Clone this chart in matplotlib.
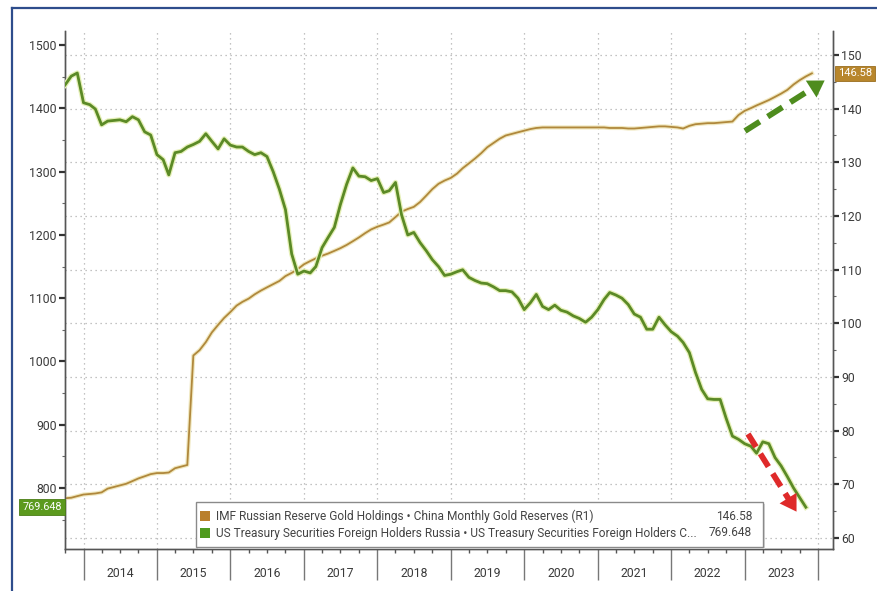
import matplotlib
matplotlib.use("Agg")
import matplotlib.pyplot as plt
import matplotlib.dates as mdates
import matplotlib.patheffects as pe
import pandas as pd
from matplotlib.patches import Rectangle, FancyArrowPatch
from matplotlib.lines import Line2D
from matplotlib.ticker import MultipleLocator, NullFormatter, FuncFormatter

FONT = ["Roboto", "DejaVu Sans"]
plt.rcParams["font.family"] = FONT

# ---- data (monthly, first observation Oct 2013) ----
ust_name = "US Treasury Securities Foreign Holders Russia \u2022 US Treasury Securities Foreign Holders C..."
gold_name = "IMF Russian Reserve Gold Holdings \u2022 China Monthly Gold Reserves (R1)"

ust_holdings = [
    1437, 1451, 1456, 1409, 1406, 1399, 1374, 1380, 1381, 1382,
    1379, 1387, 1382, 1363, 1358, 1327, 1319, 1295, 1330, 1332,
    1339, 1343, 1348, 1360, 1348, 1336, 1352, 1342, 1339, 1339,
    1332, 1327, 1330, 1324, 1300, 1272, 1240, 1170, 1138, 1143,
    1140, 1150, 1180, 1196, 1212, 1248, 1280, 1306, 1293, 1292,
    1286, 1289, 1267, 1270, 1283, 1232, 1200, 1204, 1188, 1175,
    1161, 1150, 1136, 1138, 1142, 1145, 1133, 1128, 1124, 1123,
    1118, 1112, 1112, 1110, 1100, 1082, 1093, 1106, 1087, 1082,
    1089, 1081, 1078, 1072, 1068, 1062, 1070, 1082, 1098, 1109,
    1105, 1100, 1090, 1075, 1070, 1051, 1051, 1070, 1058, 1047,
    1040, 1030, 1014, 983, 956, 941, 940, 940, 910, 882,
    877, 870, 866, 855, 873, 870, 848, 835, 818, 800,
    785, 769.648,
]

gold_reserves = [
    67.4, 67.5, 67.8, 68.1, 68.2, 68.3, 68.5, 69.2, 69.5, 69.8,
    70.1, 70.6, 71.1, 71.5, 71.9, 72.1, 72.1, 72.2, 73.0, 73.3,
    73.6, 94.0, 95.0, 96.5, 98.3, 99.7, 101.0, 102.1, 103.3, 104.0,
    104.6, 105.4, 106.1, 106.7, 107.3, 107.9, 108.8, 109.4, 110.1, 111.0,
    111.6, 112.1, 112.6, 113.0, 113.5, 114.0, 114.6, 115.3, 116.0, 116.8,
    117.5, 118.0, 118.4, 118.8, 119.8, 120.8, 121.3, 121.7, 122.6, 123.8,
    125.0, 126.0, 126.6, 127.1, 127.9, 128.9, 129.8, 130.7, 131.7, 132.8,
    133.6, 134.4, 135.0, 135.3, 135.6, 135.9, 136.2, 136.4, 136.5, 136.5,
    136.5, 136.5, 136.5, 136.5, 136.5, 136.5, 136.5, 136.5, 136.5, 136.4,
    136.4, 136.4, 136.3, 136.3, 136.4, 136.5, 136.6, 136.7, 136.7, 136.6,
    136.5, 136.3, 136.8, 137.1, 137.2, 137.3, 137.3, 137.4, 137.5, 137.6,
    138.8, 139.6, 140.1, 140.6, 141.1, 141.6, 142.2, 142.8, 143.5, 144.5,
    145.3, 146.0, 146.58,
]

ust_dates = pd.date_range("2013-10-01", periods=len(ust_holdings), freq="MS")
gold_dates = pd.date_range("2013-10-01", periods=len(gold_reserves), freq="MS")

GREEN = "#5b8a26"
GOLD = "#b0883c"
TXT = "#3a3a3a"
W, H = 878, 591


def fpx(x, y):
    """pixel position (from top-left) -> figure fraction"""
    return (x / W, 1 - y / H)


fig = plt.figure(figsize=(W / 100, H / 100), dpi=100)
fig.patch.set_facecolor("white")

# host axes carries the right-hand scale (gold); twin carries the left scale (treasuries)
ax_r = fig.add_axes([65 / W, 1 - 549 / H, (833 - 65) / W, (549 - 31) / H])
ax_l = ax_r.twinx()
ax_r.yaxis.tick_right()
ax_r.yaxis.set_label_position("right")
ax_l.yaxis.tick_left()
ax_l.yaxis.set_label_position("left")

ax_r.set_xlim(pd.Timestamp("2013-10-01"), pd.Timestamp("2024-03-15"))
ax_r.set_ylim(57.95, 154.47)
ax_l.set_ylim(703.6, 1522.4)

halo_gold = [pe.Stroke(linewidth=3.0, foreground="#f0e8c0"), pe.Normal()]
halo_green = [pe.Stroke(linewidth=3.8, foreground="#e6f0b8"), pe.Normal()]
ax_r.plot(gold_dates, gold_reserves, color=GOLD, lw=1.3, path_effects=halo_gold,
          solid_joinstyle="round", zorder=3)
ax_l.plot(ust_dates, ust_holdings, color=GREEN, lw=2.0, path_effects=halo_green,
          solid_joinstyle="round", zorder=3)

# spines
for a in (ax_r, ax_l):
    a.spines["top"].set_visible(False)
    for s in ("left", "right", "bottom"):
        a.spines[s].set_color("#555555")
        a.spines[s].set_linewidth(1.0)

# x axis: long year separators, short quarter ticks, year labels mid-year
ax_r.xaxis.set_major_locator(mdates.YearLocator())
ax_r.xaxis.set_major_formatter(NullFormatter())
ax_r.xaxis.set_minor_locator(mdates.MonthLocator(bymonth=[4, 7, 10]))
ax_r.xaxis.set_minor_formatter(
    FuncFormatter(lambda v, p: str(mdates.num2date(v).year) if mdates.num2date(v).month == 7 else "")
)
ax_r.tick_params(axis="x", which="major", length=22.5, width=1.0, color="#777777", direction="out")
ax_r.tick_params(axis="x", which="minor", length=3, width=1.0, color="#555555", direction="out",
                 pad=10, labelsize=8.8, labelcolor=TXT)

# gridlines (dotted) from the right scale and the year boundaries
ax_r.grid(True, axis="x", which="major", color="#b0b0b0", lw=0.9, linestyle=(0, (1, 3)))
ax_r.grid(True, axis="y", which="major", color="#b0b0b0", lw=0.9, linestyle=(0, (1, 3)))

ax_r.yaxis.set_major_locator(MultipleLocator(10))
ax_r.yaxis.set_minor_locator(MultipleLocator(5))
ax_l.yaxis.set_major_locator(MultipleLocator(100))
ax_l.yaxis.set_minor_locator(MultipleLocator(50))
for a in (ax_r, ax_l):
    a.tick_params(axis="y", which="major", length=4, width=1.6, color="#333333",
                  labelsize=8.8, labelcolor=TXT, pad=2)
    a.tick_params(axis="y", which="minor", length=2.5, width=0.8, color="#666666")

# last-value tags on both scales
ax_r.annotate(f"{gold_reserves[-1]:.2f}", xy=(1, gold_reserves[-1]),
              xycoords=("axes fraction", "data"), xytext=(3.5, 0), textcoords="offset points",
              ha="left", va="center", fontsize=8, color="white", annotation_clip=False,
              bbox=dict(boxstyle="square,pad=0.25", fc="#b8862c", ec="#9a6e1e", lw=0.6))
ax_l.annotate(f"{ust_holdings[-1]:.3f}", xy=(0, ust_holdings[-1]),
              xycoords=("axes fraction", "data"), xytext=(-2, 0), textcoords="offset points",
              ha="right", va="center", fontsize=7.8, color="white", annotation_clip=False,
              bbox=dict(boxstyle="square,pad=0.3", fc="#5c9a1e", ec="#4a7e16", lw=0.6))

# legend box
lx0, ly0, lx1, ly1 = 196, 502, 763, 547
fig.patches.append(Rectangle(fpx(lx0 + 2, ly1 + 2), (lx1 - lx0) / W, (ly1 - ly0) / H,
                             transform=fig.transFigure, fc="#d8d8d8", ec="none", zorder=8))
fig.patches.append(Rectangle(fpx(lx0, ly1), (lx1 - lx0) / W, (ly1 - ly0) / H,
                             transform=fig.transFigure, fc="white", ec="#8a8a8a", lw=1.0, zorder=9))
entries = [(gold_name, "#b97f2c", f"{gold_reserves[-1]:.2f}", 516),
           (ust_name, "#4f9a1e", f"{ust_holdings[-1]:.3f}", 533)]
for name, col, val, yy in entries:
    fig.patches.append(Rectangle(fpx(200, yy + 5), 10 / W, 10 / H, transform=fig.transFigure,
                                 fc=col, ec="none", zorder=10))
    fig.text(*fpx(216, yy), name, ha="left", va="center", fontsize=8.6, color="#444444", zorder=10)
    fig.text(*fpx(752, yy), val, ha="right", va="center", fontsize=8.6, color="#444444", zorder=10)


def dashed_arrow(p0, p1, color, lw, dashes, head_len, head_w):
    x0, y0 = fpx(*p0)
    x1, y1 = fpx(*p1)
    dx, dy = p1[0] - p0[0], p1[1] - p0[1]
    L = (dx ** 2 + dy ** 2) ** 0.5
    bx, by = fpx(p1[0] - dx / L * head_len, p1[1] - dy / L * head_len)
    fig.add_artist(Line2D([x0, bx], [y0, by], transform=fig.transFigure, color=color,
                          lw=lw, dashes=dashes, solid_capstyle="butt", zorder=11))
    sx, sy = fpx(p1[0] - dx / L * (head_len + 1), p1[1] - dy / L * (head_len + 1))
    fig.add_artist(FancyArrowPatch(
        (sx, sy), (x1, y1), transform=fig.transFigure,
        arrowstyle=f"-|>,head_length={head_len * 0.72 / 10:.2f},head_width={head_w * 0.72 / 20:.2f}",
        mutation_scale=10, color=color, lw=0, zorder=12))


dashed_arrow((745, 131), (827, 79), "#4e8c1e", 4.2, (3.0, 1.6), 16, 20)
dashed_arrow((748, 434), (798, 514), "#df2a2a", 4.2, (2.6, 1.4), 16, 20)

# outer frame
fig.add_artist(Line2D([12 / W, 12 / W], [0, 1 - 8 / H], transform=fig.transFigure,
                      color="#2e4d8c", lw=1.6))
fig.add_artist(Line2D([12 / W, 1], [1 - 8 / H, 1 - 8 / H], transform=fig.transFigure,
                      color="#2e4d8c", lw=1.6))

fig.savefig("out.png", dpi=100, facecolor="white")
